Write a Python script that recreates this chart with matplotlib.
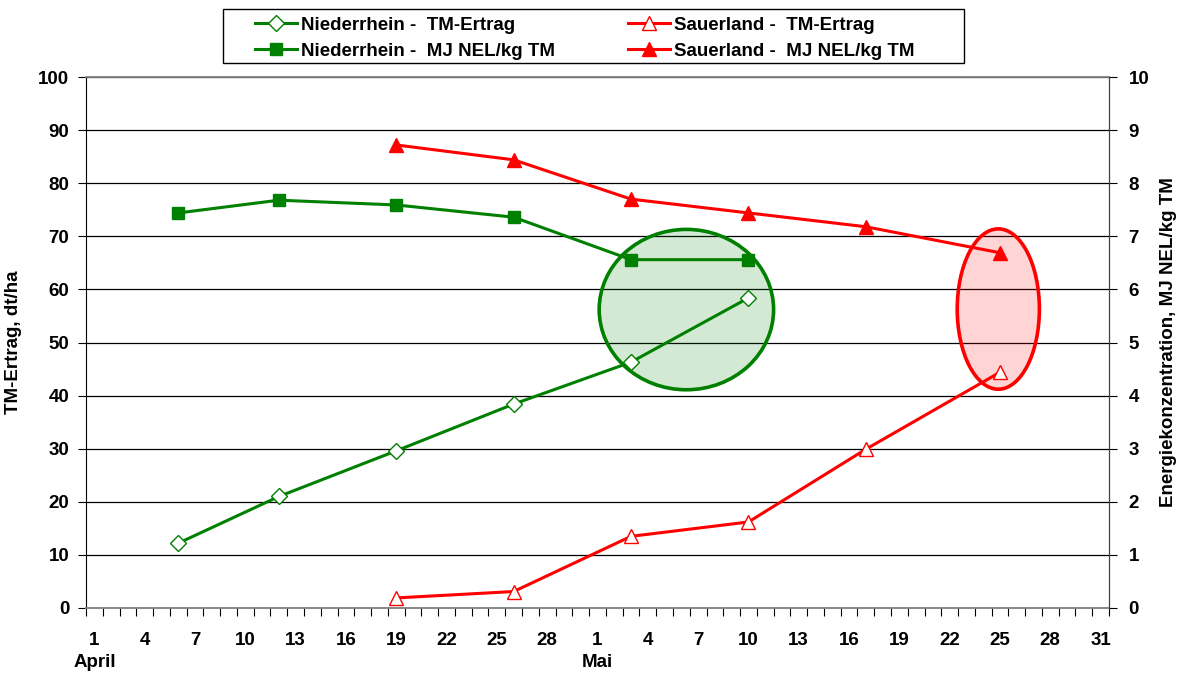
import matplotlib
matplotlib.use("Agg")
import matplotlib.pyplot as plt
import pandas as pd
from matplotlib.patches import Ellipse, Rectangle
from matplotlib.ticker import FixedLocator, FixedFormatter

plt.rcParams['font.family'] = ['Liberation Sans', 'DejaVu Sans']
plt.rcParams['font.weight'] = 'bold'
FS = 13.5

# ---- data ----
nr_dates = ['2004-04-06', '2004-04-12', '2004-04-19', '2004-04-26', '2004-05-03', '2004-05-10']
nr_tm = [12.2, 21.0, 29.6, 38.4, 46.3, 58.4]
nr_mj = [7.44, 7.68, 7.59, 7.36, 6.56, 6.56]

sl_dates = ['2004-04-19', '2004-04-26', '2004-05-03', '2004-05-10', '2004-05-17', '2004-05-25']
sl_tm = [1.9, 3.1, 13.5, 16.2, 29.9, 44.4]
sl_mj = [8.72, 8.44, 7.70, 7.44, 7.18, 6.69]

start = pd.Timestamp('2004-03-31')
def day_index(dates):
    return [(pd.Timestamp(d) - start).days for d in dates]

x_nr = day_index(nr_dates)
x_sl = day_index(sl_dates)

tick_days = list(range(1, 62, 3))
tick_labels = [str((start + pd.Timedelta(days=d)).day) for d in tick_days]

green = '#008000'
red = '#ff0000'

fig = plt.figure(figsize=(11.85, 6.75), dpi=100)
ax = fig.add_axes([86/1185, 1-608/675, (1109-86)/1185, (608-77)/675])
ax2 = ax.twinx()

ax.set_xlim(0.5, 61.5)
ax.set_ylim(0, 100)
ax2.set_ylim(0, 10)

ax.set_yticks(range(0, 101, 10))
ax.yaxis.grid(True, color='black', lw=0.9)
ax2.set_yticks(range(0, 11, 1))

ax.xaxis.set_major_locator(FixedLocator([i + 0.5 for i in range(0, 62)]))
ax.xaxis.set_minor_locator(FixedLocator(tick_days))
ax.set_xticklabels([])
ax.xaxis.set_minor_formatter(FixedFormatter(tick_labels))
ax.tick_params(axis='x', which='major', length=6, width=0.8, direction='out', color='black')
ax.tick_params(axis='x', which='minor', length=0, pad=17, labelsize=FS)
for lab in ax.get_xticklabels(minor=True):
    lab.set_fontweight('bold')

ax.tick_params(axis='y', length=6, width=0.8, pad=6, labelsize=FS)
ax2.tick_params(axis='y', length=6, width=0.8, pad=8, labelsize=FS)

for s in ['top', 'bottom']:
    ax.spines[s].set_color('#808080')
    ax.spines[s].set_linewidth(1.3)
ax.spines['left'].set_color('black')
ax2.spines['right'].set_color('#404040')
for s in ['top', 'bottom', 'left']:
    ax2.spines[s].set_visible(False)

ax.set_ylabel('TM-Ertrag, dt/ha', fontsize=FS, fontweight='bold', labelpad=12)
ax2.set_ylabel('Energiekonzentration, MJ NEL/kg TM', fontsize=FS, fontweight='bold', labelpad=8)

ax.text(1, -0.103, 'April', transform=ax.get_xaxis_transform(), ha='center', va='center',
        fontsize=FS, fontweight='bold')
ax.text(31, -0.103, 'Mai', transform=ax.get_xaxis_transform(), ha='center', va='center',
        fontsize=FS, fontweight='bold')

e1 = Ellipse((36.3, 56.2), 10.4, 30.2, facecolor=(0, 0.5, 0, 0.17), edgecolor=green, lw=2.6, zorder=1.8)
e2 = Ellipse((54.9, 56.3), 4.9, 30.2, facecolor=(1, 0, 0, 0.17), edgecolor=red, lw=2.6, zorder=1.8)
ax.add_patch(e1)
ax.add_patch(e2)

lw = 2.2
l1, = ax.plot(x_nr, nr_tm, color=green, lw=lw, marker='D', ms=8, mfc='white', mec=green, mew=1.0,
              label='Niederrhein -  TM-Ertrag', zorder=3)
l3, = ax.plot(x_sl, sl_tm, color=red, lw=lw, marker='^', ms=9.5, mfc='white', mec=red, mew=1.0,
              label='Sauerland -  TM-Ertrag', zorder=3)
l2, = ax2.plot(x_nr, nr_mj, color=green, lw=lw, marker='s', ms=9, mfc=green, mec=green,
               label='Niederrhein -  MJ NEL/kg TM', zorder=3)
l4, = ax2.plot(x_sl, sl_mj, color=red, lw=lw, marker='^', ms=10.5, mfc=red, mec=red,
               label='Sauerland -  MJ NEL/kg TM', zorder=3)

leg = fig.legend([l1, l2, l3, l4], [l.get_label() for l in [l1, l2, l3, l4]], ncol=2,
                 loc='upper left', bbox_to_anchor=(246/1185, 1-7/675), frameon=False,
                 borderpad=0, handlelength=2.2, handletextpad=0.25, columnspacing=3.9,
                 labelspacing=0.5, prop={'size': FS, 'weight': 'bold'})
fig.patches.append(Rectangle((223/1185, 1-63/675), (964-223)/1185, 54/675,
                             transform=fig.transFigure, fill=False, edgecolor='black', lw=1.0))

fig.savefig('out.png', dpi=100)
